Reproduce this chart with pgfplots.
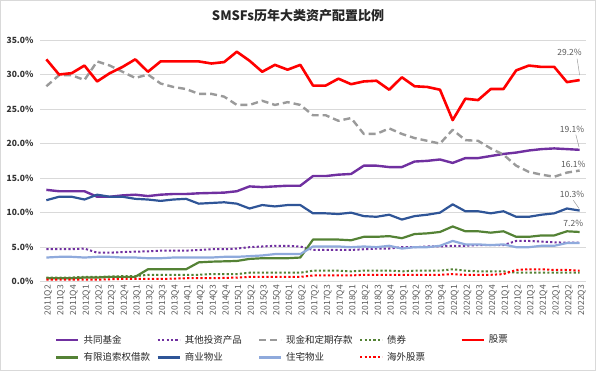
\documentclass[border=0pt]{standalone}
\usepackage{fontspec}
\setmainfont{Noto Sans CJK SC}
\usepackage{pgfplots}
\pgfplotsset{compat=1.18}
\usepackage{pgfplotstable}

\definecolor{cpurple}{HTML}{7030A0}
\definecolor{cgrey}{HTML}{9A9A9A}
\definecolor{cgreen}{HTML}{548235}
\definecolor{cred}{HTML}{FF0000}
\definecolor{cblue}{HTML}{2F5597}
\definecolor{clblue}{HTML}{8FAADC}
\definecolor{cgrid}{HTML}{D9D9D9}
\definecolor{ctext}{HTML}{595959}

\pgfplotstableread{
i gj qt xj zq gp yx sy zz hw
0 13.3 4.7 28.3 0.6 32.2 0.5 11.8 3.5 0.3
1 13.1 4.7 29.9 0.6 30.0 0.5 12.3 3.6 0.3
2 13.1 4.7 29.9 0.6 30.2 0.5 12.3 3.6 0.3
3 13.1 4.8 29.2 0.7 31.3 0.6 11.9 3.5 0.3
4 12.3 4.2 31.9 0.7 29.0 0.6 12.6 3.6 0.3
5 12.3 4.2 31.3 0.75 30.2 0.7 12.3 3.6 0.35
6 12.5 4.3 30.4 0.8 31.1 0.7 12.3 3.5 0.4
7 12.6 4.35 29.5 0.8 32.2 0.7 12.0 3.5 0.4
8 12.4 4.4 30.0 1.0 30.4 1.8 11.9 3.4 0.4
9 12.6 4.5 28.7 1.0 31.9 1.8 11.7 3.4 0.4
10 12.7 4.5 28.2 1.0 31.9 1.8 11.9 3.5 0.45
11 12.7 4.5 27.9 1.0 31.9 1.8 12.0 3.5 0.5
12 12.8 4.6 27.2 1.0 31.9 2.8 11.3 3.5 0.5
13 12.85 4.7 27.2 1.1 31.6 2.9 11.4 3.5 0.5
14 12.9 4.7 26.8 1.1 31.8 2.95 11.5 3.6 0.55
15 13.1 4.8 25.6 1.1 33.3 3.0 11.3 3.6 0.6
16 13.8 5.0 25.6 1.3 32.0 3.3 10.6 3.7 0.7
17 13.7 5.1 26.2 1.3 30.4 3.4 11.1 3.8 0.7
18 13.8 5.2 25.6 1.3 31.4 3.4 10.9 4.0 0.7
19 13.9 5.2 26.0 1.3 30.7 3.4 11.1 4.0 0.7
20 13.9 5.1 25.6 1.3 31.4 3.5 11.1 4.0 0.7
21 15.3 4.6 24.1 1.6 28.4 6.1 9.9 5.1 0.9
22 15.3 4.6 24.1 1.6 28.4 6.1 9.9 5.1 0.9
23 15.5 4.6 23.3 1.6 29.4 6.1 9.8 5.1 0.9
24 15.6 4.6 23.7 1.5 28.6 6.0 10.0 5.0 0.9
25 16.8 4.7 21.4 1.6 29.0 6.5 9.5 5.1 1.0
26 16.8 4.8 21.4 1.6 29.1 6.5 9.4 5.0 1.0
27 16.6 4.8 22.2 1.6 27.8 6.6 9.7 5.2 1.0
28 16.6 5.0 21.4 1.5 29.6 6.3 9.0 4.8 1.0
29 17.4 5.0 20.8 1.6 28.3 6.9 9.5 5.0 1.0
30 17.5 5.1 20.4 1.6 28.2 7.0 9.7 5.0 1.0
31 17.7 5.1 20.0 1.6 27.8 7.2 10.0 5.2 1.0
32 17.2 5.2 22.0 1.8 23.4 8.0 11.2 5.9 1.1
33 17.9 5.2 20.5 1.6 26.5 7.3 10.2 5.4 1.0
34 17.9 5.3 20.4 1.5 26.3 7.3 10.2 5.4 1.0
35 18.2 5.3 19.3 1.5 27.9 7.1 9.9 5.3 1.0
36 18.5 5.3 18.4 1.5 27.9 7.3 10.2 5.4 1.1
37 18.7 5.9 16.8 1.3 30.6 6.5 9.4 5.0 1.7
38 19.0 5.9 15.9 1.3 31.3 6.5 9.4 5.0 1.8
39 19.2 5.8 15.5 1.3 31.1 6.7 9.7 5.2 1.8
40 19.3 5.7 15.2 1.3 31.1 6.7 9.9 5.2 1.7
41 19.2 5.65 15.8 1.3 28.9 7.3 10.6 5.6 1.7
42 19.1 5.65 16.1 1.3 29.2 7.2 10.3 5.6 1.6
}\data

\begin{document}
\begin{tikzpicture}
\path[use as bounding box] (0,0) rectangle (600pt,373pt);
\draw[cgrid, line width=0.8pt] (0.5pt,2.5pt) rectangle (595pt,372.5pt);
\node[font=\bfseries\fontsize{13}{15}\selectfont, text=black!85] at (298pt,357pt) {SMSFs历年大类资产配置比例};
\begin{axis}[
  at={(40pt,91.3pt)}, anchor=south west, scale only axis,
  width=546pt, height=241.7pt,
  xmin=-0.5, xmax=42.5, ymin=0, ymax=35,
  clip=false,
  axis line style={draw=none},
  major tick length=0pt,
  ymajorgrids, major grid style={draw=cgrid, line width=0.8pt},
  ytick={0,5,...,35},
  /pgf/number format/assume math mode=true,
  yticklabel={\pgfmathprintnumber[fixed,fixed zerofill,precision=1]{\tick}\%},
  y tick label style={font=\bfseries\fontsize{8.5}{10}\selectfont, text=black!80, xshift=-3pt},
  xtick={0,...,42},
  xticklabels={2011Q2,2011Q3,2011Q4,2012Q1,2012Q2,2012Q3,2012Q4,2013Q1,2013Q2,2013Q3,2013Q4,2014Q1,2014Q2,2014Q3,2014Q4,2015Q1,2015Q2,2015Q3,2015Q4,2016Q1,2016Q2,2017Q2,2017Q3,2017Q4,2018Q1,2018Q2,2018Q3,2018Q4,2019Q1,2019Q2,2019Q3,2019Q4,2020Q1,2020Q2,2020Q3,2020Q4,2021Q1,2021Q2,2021Q3,2021Q4,2022Q1,2022Q2,2022Q3},
  x tick label style={rotate=90, anchor=east, font=\fontsize{8.5}{10}\selectfont, text=ctext, yshift=-2pt},
  legend columns=5,
  legend cell align=left,
  legend style={at={(0.022,-0.212)}, anchor=north west, draw=none, fill=none,
    font=\fontsize{9.5}{11}\selectfont, text=black!85,
    nodes={inner sep=0pt},
    /tikz/every odd column/.append style={column sep=4pt},
    /tikz/every even column/.append style={column sep=5pt},
    row sep=8pt},
  legend image code/.code={\draw[#1] (0pt,0pt) -- (22pt,0pt);},
]
\addplot[cpurple, line width=2.4pt, line join=round] table[x=i,y=gj]{\data};
\addlegendentry{\makebox[68pt][l]{共同基金}}
\addplot[cpurple, line width=2pt, dash pattern=on 2.2pt off 2.2pt] table[x=i,y=qt]{\data};
\addlegendentry{\makebox[68pt][l]{其他投资产品}}
\addplot[cgrey, line width=2.4pt, dash pattern=on 7pt off 4pt, line join=round] table[x=i,y=xj]{\data};
\addlegendentry{\makebox[68pt][l]{现金和定期存款}}
\addplot[cgreen, line width=2pt, dash pattern=on 2.2pt off 2.2pt] table[x=i,y=zq]{\data};
\addlegendentry{\makebox[68pt][l]{债券}}
\addplot[cred, line width=2.6pt, line join=round] table[x=i,y=gp]{\data};
\addlegendentry{\makebox[68pt][l]{股票}}
\addplot[cgreen, line width=2.2pt, line join=round] table[x=i,y=yx]{\data};
\addlegendentry{\makebox[68pt][l]{有限追索权借款}}
\addplot[cblue, line width=2.2pt, line join=round] table[x=i,y=sy]{\data};
\addlegendentry{\makebox[68pt][l]{商业物业}}
\addplot[clblue, line width=2.2pt, line join=round] table[x=i,y=zz]{\data};
\addlegendentry{\makebox[68pt][l]{住宅物业}}
\addplot[cred, line width=2pt, dash pattern=on 2.2pt off 2.2pt] table[x=i,y=hw]{\data};
\addlegendentry{\makebox[68pt][l]{海外股票}}

\tikzset{lbl/.style={font=\fontsize{8.5}{10}\selectfont, text=ctext, inner sep=0pt}, lead/.style={draw=ctext!60, line width=0.5pt}}
\node[lbl] at (axis cs:41.2,33.2) {29.2\%};
\draw[lead] (axis cs:41.8,32.3) -- (axis cs:42.0,29.9);
\node[lbl] at (axis cs:41.4,22.1) {19.1\%};
\draw[lead] (axis cs:41.7,21.3) -- (axis cs:41.95,19.5);
\node[lbl] at (axis cs:41.5,17.0) {16.1\%};
\node[lbl] at (axis cs:41.4,12.7) {10.3\%};
\draw[lead] (axis cs:41.5,11.8) -- (axis cs:41.95,10.6);
\node[lbl] at (axis cs:41.5,8.5) {7.2\%};
\end{axis}
\end{tikzpicture}
\end{document}
